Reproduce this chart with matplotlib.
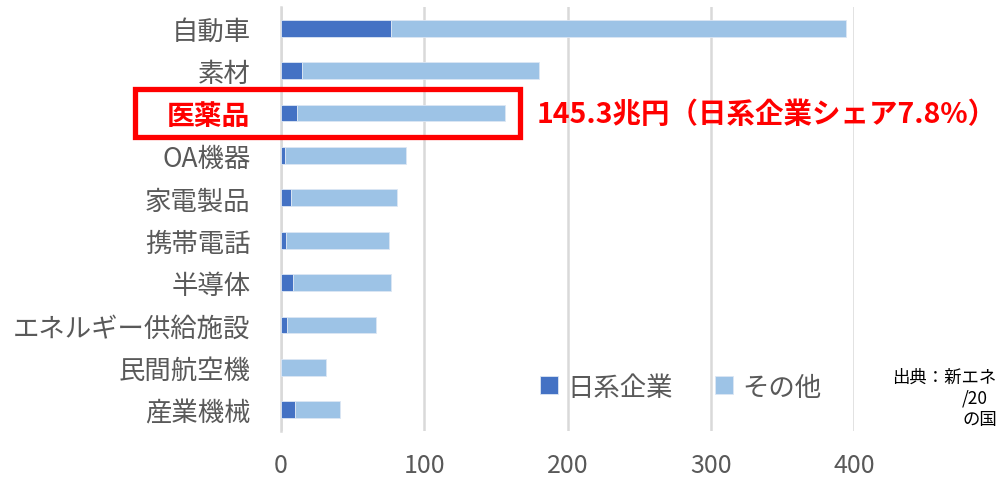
"""日系企業シェア — 産業別市場規模 (兆円) 横棒グラフ"""
import matplotlib
matplotlib.use("Agg")
import matplotlib.pyplot as plt
from matplotlib.patches import Rectangle

plt.rcParams["font.family"] = ["Noto Sans CJK JP", "DejaVu Sans"]

# ---- data (兆円) ----
categories = ["自動車", "素材", "医薬品", "OA機器", "家電製品", "携帯電話",
              "半導体", "エネルギー供給施設", "民間航空機", "産業機械"]
japan = [76.8, 14.7, 11.0, 2.8, 7.0, 3.3, 8.6, 4.4, 0.3, 9.5]
total = [394.5, 180.0, 156.6, 87.3, 81.0, 75.4, 76.6, 66.1, 31.2, 41.0]
others = [t - j for t, j in zip(total, japan)]
xticks = [0, 100, 200, 300, 400]

DARK = "#4472C4"
LIGHT = "#9DC3E6"
GRAY = "#595959"
RED = "#FF0000"

W, H = 998, 481
fig = plt.figure(figsize=(W / 100, H / 100), dpi=100)
ax = fig.add_axes([281 / W, 1 - 432 / H, (854 - 281) / W, (432 - 8) / H])

y = list(range(len(categories)))
b1 = ax.barh(y, japan, height=0.4, color=DARK, edgecolor="#DCE6F4", linewidth=0.6,
             label="日系企業", zorder=3)
b2 = ax.barh(y, others, left=japan, height=0.4, color=LIGHT, edgecolor="#DCE6F4",
             linewidth=0.6, label="その他", zorder=3)

ax.set_ylim(len(categories) - 0.5, -0.5)
ax.set_xlim(0, 400)
ax.set_xticks(xticks)
ax.set_xticklabels([str(v) for v in xticks], fontsize=18, color=GRAY)
ax.set_yticks(y)
ax.set_yticklabels(categories, fontsize=19, color=GRAY)
ax.tick_params(axis="x", length=0, pad=15)
ax.tick_params(axis="y", length=0, pad=22)

for lbl in ax.get_yticklabels():
    if lbl.get_text() == "医薬品":
        lbl.set_color(RED)
        lbl.set_fontweight("bold")
        lbl.set_fontsize(20)

ax.grid(axis="x", color="#D9D9D9", linewidth=1.8, zorder=0)
for s in ["top", "right", "bottom"]:
    ax.spines[s].set_visible(False)
ax.spines["left"].set_color("#D9D9D9")
ax.spines["left"].set_linewidth(1.8)

# 医薬品 を赤枠で強調
fig.patches.append(Rectangle((135 / W, 1 - 138 / H), (520 - 135) / W, 48 / H,
                             transform=fig.transFigure, fill=False,
                             edgecolor=RED, linewidth=3.8, zorder=5))
fig.text(537 / W, 1 - 115 / H, "145.3兆円（日系企業シェア7.8%）",
         fontsize=20.5, fontweight="bold", color=RED, ha="left", va="center")

# 凡例
ax.legend(handles=[b1, b2], loc="center left", bbox_to_anchor=(540 / W, 1 - 388 / H),
          bbox_transform=fig.transFigure, ncol=2, frameon=False, fontsize=19,
          labelcolor=GRAY, handlelength=0.68, handleheight=0.68, handletextpad=0.35,
          columnspacing=1.6, borderpad=0, borderaxespad=0)

# 出典 (右端で切れている)
fig.text(892 / W, 1 - 378 / H, "出典：新エネ", fontsize=12.5, color="black", va="center")
fig.text(962 / W, 1 - 399 / H, "/20", fontsize=12.5, color="black", va="center")
fig.text(962 / W, 1 - 420 / H, "の国", fontsize=12.5, color="black", va="center")

fig.savefig("out.png", dpi=100)
